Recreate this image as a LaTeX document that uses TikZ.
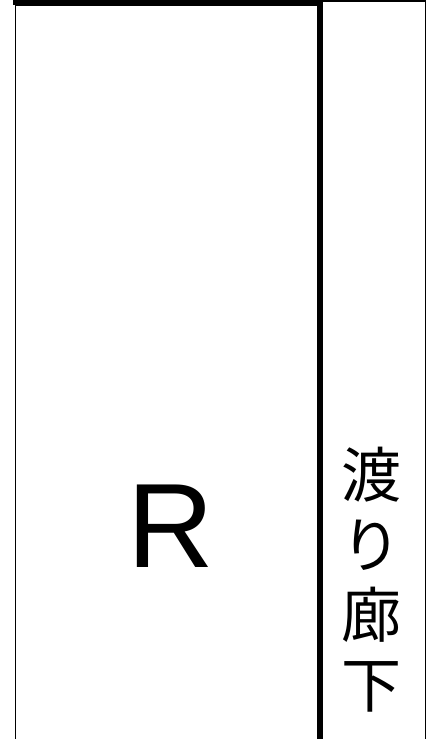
\documentclass[tikz,border=0pt]{standalone}
\usepackage{fontspec}
\setmainfont{Liberation Sans}
\newfontfamily\jpfont{Noto Sans CJK JP}
\usepackage{tikz}
\usetikzlibrary{positioning}

\begin{document}
\begin{tikzpicture}[x=1pt, y=-1pt]
            % Set styles
            \tikzset{
                thinWall/.style={
                        draw,
                        line width=1.6pt
                    }
            }
            \tikzset{
                thickWall/.style={
                        draw,
                        line width=5.5pt
                    }
            }
            \tikzset{
                roomLabel/.style={
                        font=\fontsize{120}{120}\selectfont,
                        inner sep=0pt
                    }
            }
            \tikzset{
                corridorLabel/.style={
                        font=\jpfont\fontsize{60}{70}\selectfont,
                        align=center,
                        inner sep=0pt
                    }
            }
            \useasboundingbox (0,0) rectangle (427,739);
            % Walls
            \draw[thinWall] (15.3,5) rectangle (320,760);
            \draw[thinWall, line width=1.4pt] (320,1) rectangle (425.6,760);
            \draw[thickWall] (12.7,2.2) -- (322.7,2.2);
            \draw[thickWall] (320,0) -- (320,760);
            % Labels
            \node[roomLabel](room) at (170.5,526){R};
            \node[corridorLabel](corridor) at (371.5,580){渡\\り\\廊\\下};
        \end{tikzpicture}
\end{document}
